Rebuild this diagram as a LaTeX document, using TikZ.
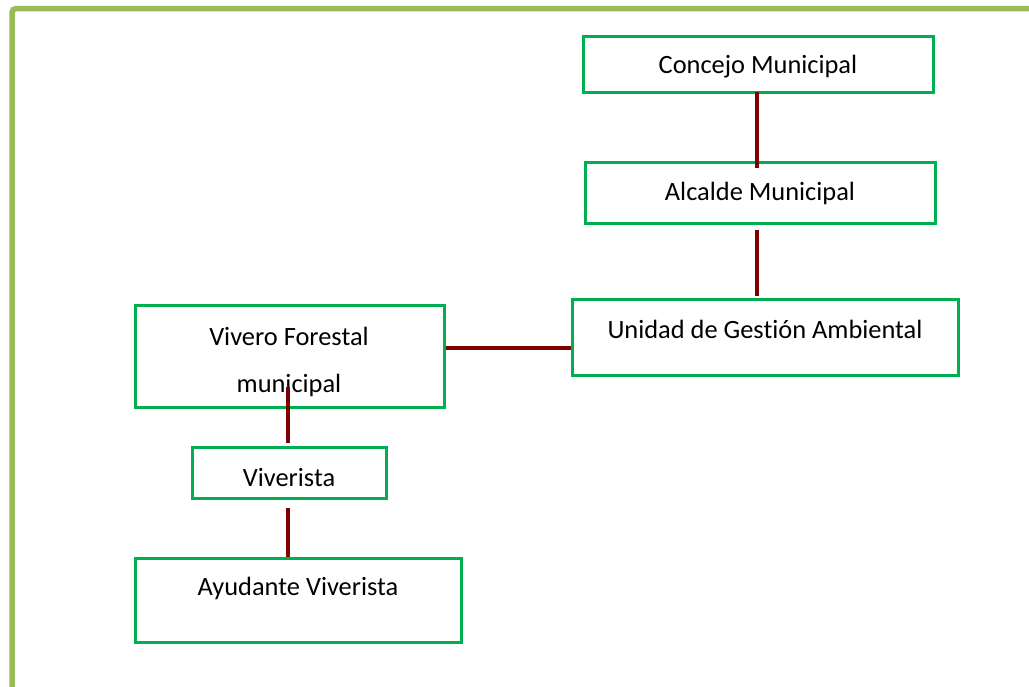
\documentclass[tikz,border=0pt]{standalone}
\usepackage{fontspec}
\setmainfont{Carlito}[Ligatures={NoCommon}]
\usetikzlibrary{positioning}
\tikzset{
  box/.style={draw=boxgreen, line width=3pt, rectangle, inner sep=0pt, fill=white},
  txt/.style={font=\fontsize{26.4}{30}\selectfont, text=black, inner sep=0pt},
  conn/.style={draw=connred, line width=3.5pt},
  frame/.style={draw=framegreen, line width=5.5pt, rounded corners=4pt}
}
\definecolor{boxgreen}{HTML}{00B050}
\definecolor{connred}{HTML}{7F0000}
\definecolor{framegreen}{HTML}{9BBB59}
\begin{document}
\begin{tikzpicture}[x=1pt,y=-1pt]
\useasboundingbox (0,0) rectangle (1029,686);
\fill[white] (0,0) rectangle (1029,686);
\draw[frame] (12,720) |- (1060,8.5);
% boxes
\node[box, minimum width=350pt, minimum height=56pt] (c) at (758,64) {};
\node[box, minimum width=350pt, minimum height=61pt] (a) at (760,192.5) {};
\node[box, minimum width=386pt, minimum height=76pt] (u) at (765,337) {};
\node[box, minimum width=309pt, minimum height=102pt] (v) at (289.5,356) {};
\node[box, minimum width=194pt, minimum height=51pt] (w) at (289,472.5) {};
\node[box, minimum width=326pt, minimum height=84pt] (y) at (298,600) {};
% texts
\node[txt] (ct) at (758,67) {Concejo Municipal};
\node[txt] (at) at (760,193) {Alcalde Municipal};
\node[txt] (ut) at (765,329) {Unidad de Gestión Ambiental};
\node[txt] (vt1) at (289,336) {Vivero Forestal};
\node[txt] (vt2) at (289,385) {municipal};
\node[txt] (wt) at (289,478) {Viverista};
\node[txt] (yt) at (298,588) {Ayudante Viverista};
% connectors
\draw[conn, shorten >=-3pt] (757,92) -- (757,165);
\draw[conn] ([yshift=-5pt]a.south -| 757,0) -- ([yshift=2pt]u.north -| 757,0);
\draw[conn] (v.east |- 0,348) -- (u.west |- 0,348);
\draw[conn] (288,387) -- (288,443);
\draw[conn] (288,508) -- (y.north -| 288,0);
\end{tikzpicture}
\end{document}
